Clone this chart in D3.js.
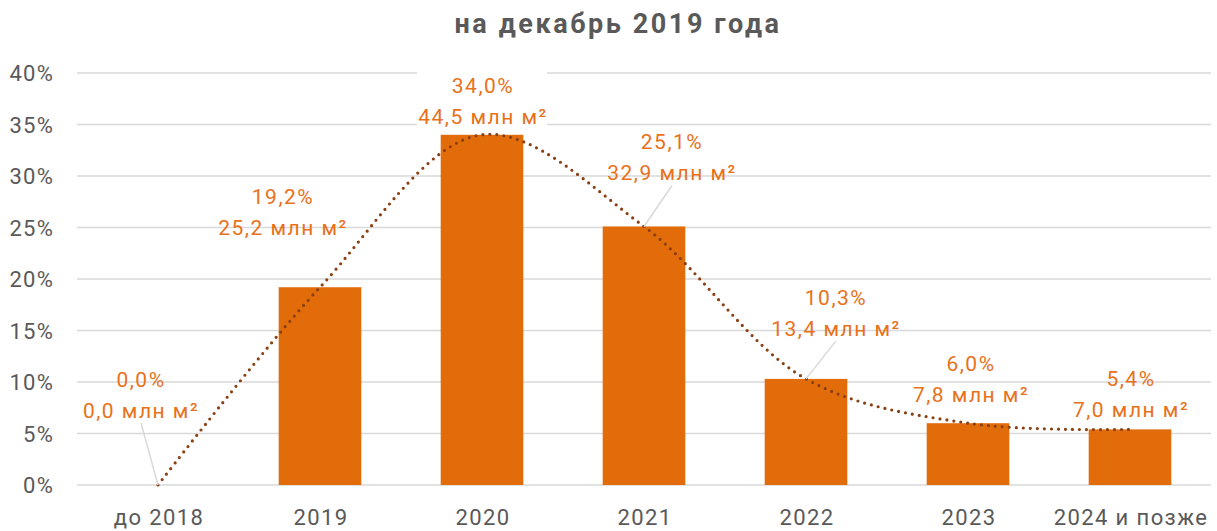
<!DOCTYPE html>
<html>
<head>
<meta charset="utf-8">
<script src="https://cdn.jsdelivr.net/npm/d3@7"></script>
<style>
    body { margin: 0; background: #fff; }
    text { font-family: Roboto, "Noto Sans", sans-serif; }
</style>
</head>
<body>
<svg id="chart"></svg>
<script>
var categories = ["до 2018", "2019", "2020", "2021", "2022", "2023", "2024 и позже"];
var shares = [0.0, 19.2, 34.0, 25.1, 10.3, 6.0, 5.4];
var areas = [0.0, 25.2, 44.5, 32.9, 13.4, 7.8, 7.0];
var yTicks = [0, 5, 10, 15, 20, 25, 30, 35, 40];

// label placement, as Excel left it (px shift from bar centre / px above bar top)
var labelDx = [-18, -38, 0, 27, 29, 2, 0];
var labelLift = [74, 59, 18, 53, 50, 28, 19];
var labelLeader = [true, false, false, true, true, false, false];
var labelFill = [false, false, true, false, false, false, false];

var width = 1217;
var height = 531;
var plotLeft = 77, plotRight = 1211, plotTop = 73, plotBottom = 485;

var barColor = "#E36C0A";
var labelColor = "#E8711A";
var trendColor = "#8A4012";
var gridColor = "#D9D9D9";
var textColor = "#595959";

var svg = d3.select("#chart").attr("width", width).attr("height", height);

var x = d3.scaleBand()
    .domain(categories)
    .range([plotLeft, plotRight])
    .paddingInner(0.49)
    .paddingOuter(0.245);

var y = d3.scaleLinear().domain([0, 40]).range([plotBottom, plotTop]);

var fmt = function(v) { return v.toFixed(1).replace(".", ","); };
var cx = function(i) { return x(categories[i]) + x.bandwidth() / 2; };
var idx = d3.range(shares.length);

// title
svg.append("text")
    .attr("x", 618)
    .attr("y", 33)
    .attr("text-anchor", "middle")
    .style("font-size", "27px")
    .style("font-weight", "bold")
    .style("letter-spacing", "2.6px")
    .style("fill", textColor)
    .text("на декабрь 2019 года");

// grid
svg.selectAll("line.grid")
    .data(yTicks)
    .enter()
    .append("line")
    .attr("class", "grid")
    .attr("x1", plotLeft)
    .attr("x2", plotRight)
    .attr("y1", function(d) { return y(d); })
    .attr("y2", function(d) { return y(d); })
    .style("stroke", gridColor)
    .style("stroke-width", 1.5);

svg.selectAll("text.ytick")
    .data(yTicks)
    .enter()
    .append("text")
    .attr("class", "ytick")
    .attr("x", 54)
    .attr("y", function(d) { return y(d) + 8; })
    .attr("text-anchor", "end")
    .style("font-size", "22px")
    .style("letter-spacing", "1.2px")
    .style("fill", textColor)
    .text(function(d) { return d + "%"; });

svg.selectAll("text.xtick")
    .data(categories)
    .enter()
    .append("text")
    .attr("class", "xtick")
    .attr("x", function(d) { return x(d) + x.bandwidth() / 2 + 1; })
    .attr("y", 525)
    .attr("text-anchor", "middle")
    .style("font-size", "22px")
    .style("letter-spacing", "1.4px")
    .style("fill", textColor)
    .text(String);

// bars
svg.selectAll("rect.bar")
    .data(idx)
    .enter()
    .append("rect")
    .attr("class", "bar")
    .attr("x", function(i) { return x(categories[i]); })
    .attr("width", x.bandwidth())
    .attr("y", function(i) { return y(shares[i]); })
    .attr("height", function(i) { return y(0) - y(shares[i]); })
    .style("fill", barColor);

// smoothed dotted trend through the bar tops
svg.append("path")
    .datum(idx)
    .attr("d", d3.line()
        .x(function(i) { return cx(i); })
        .y(function(i) { return y(shares[i]); })
        .curve(d3.curveCatmullRom.alpha(0.5)))
    .style("fill", "none")
    .style("stroke", trendColor)
    .style("stroke-width", 3.2)
    .style("stroke-linecap", "round")
    .style("stroke-dasharray", "0 7");

// data labels
var labels = svg.selectAll("g.label")
    .data(idx)
    .enter()
    .append("g")
    .attr("class", "label")
    .attr("transform", function(i) {
        return "translate(" + (cx(i) + labelDx[i]) + "," + (y(shares[i]) - labelLift[i]) + ")";
    });

labels.filter(function(i) { return labelLeader[i]; })
    .append("line")
    .attr("x1", 1)
    .attr("y1", 12)
    .attr("x2", function(i) { return -labelDx[i]; })
    .attr("y2", function(i) { return labelLift[i]; })
    .style("stroke", gridColor)
    .style("stroke-width", 1.5);

labels.filter(function(i) { return labelFill[i]; })
    .append("rect")
    .attr("x", -65)
    .attr("y", -46)
    .attr("width", 130)
    .attr("height", 56)
    .style("fill", "#fff");

labels.append("text")
    .attr("x", 1)
    .attr("y", -24)
    .attr("text-anchor", "middle")
    .style("font-size", "21px")
    .style("letter-spacing", "1.5px")
    .style("fill", labelColor)
    .text(function(i) { return fmt(shares[i]) + "%"; });

labels.append("text")
    .attr("x", 1)
    .attr("y", 7)
    .attr("text-anchor", "middle")
    .style("font-size", "21px")
    .style("letter-spacing", "1.5px")
    .style("fill", labelColor)
    .text(function(i) { return fmt(areas[i]) + " млн м²"; });
</script>
</body>
</html>
